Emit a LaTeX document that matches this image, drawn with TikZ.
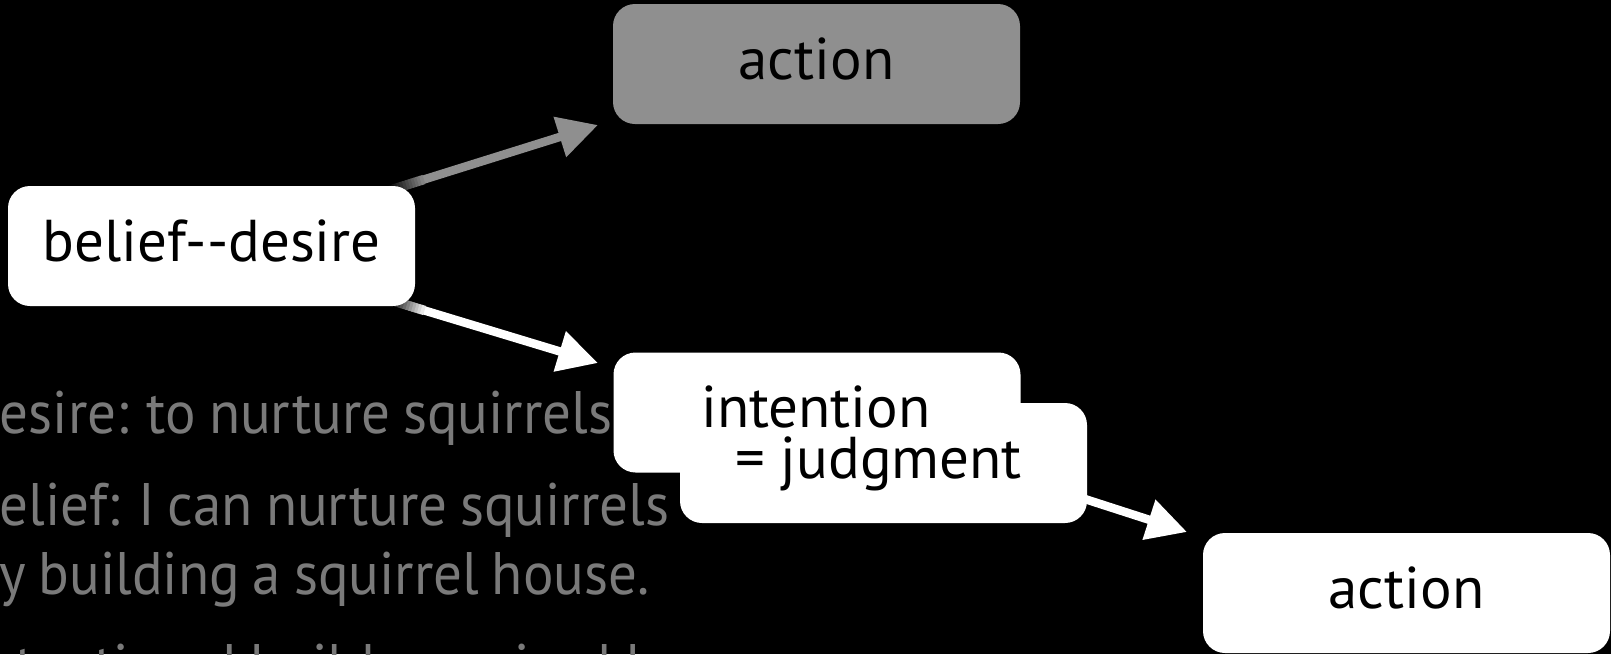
\documentclass[tikz,border=0pt]{standalone}
\usepackage{fontspec}
\setmainfont{PT Sans}
\newfontfamily\myNoteFam[FakeStretch=0.95,WordSpace=0.85]{PT Sans}
\usetikzlibrary{arrows.meta,calc}
\definecolor{boxgray}{HTML}{8F8F8F}
\definecolor{txtgray}{HTML}{7A7A7A}
\newcommand\myBoxFont{\fontsize{59}{51}\selectfont}
\newcommand\myNoteFont{\myNoteFam\fontsize{60}{69}\selectfont}
\begin{document}
\begin{tikzpicture}[x=1pt,y=-1pt,
  box/.style={rectangle, rounded corners=22pt, minimum width=407pt, minimum height=120pt, inner sep=0pt, fill=white, text=black, font=\myBoxFont, text height=30pt, text depth=0pt},
  conn/.style={line width=8.5pt, -{Triangle[length=40pt,width=40pt]}},
  note/.style={anchor=base west, inner sep=0pt, text=txtgray, font=\myNoteFont},
  ]
\fill[black] (0,0) rectangle (1611,654);
\useasboundingbox (0,0) rectangle (1611,654);
\clip (0,0) rectangle (1611,654);
% notes
\node[note] (n1) at (-31,433) {desire: to nurture squirrels};
\node[note] (n2) at (-31,525) {belief: I can nurture squirrels};
\node[note] (n3) at (-31,594) {by building a squirrel house.};
\node[note] (n4) at (-31,686) {intention: I build a squirrel house.};
% positions used by connectors
\coordinate (belc) at (211.5,246);
\coordinate (act1sw) at (613,124);
\coordinate (intbnw) at (613,353);
\coordinate (intbc) at (817,412.5);
\coordinate (act2nw) at (1203,533);
\coordinate (tg1) at ($(act1sw)+(-15,1)$);
\coordinate (tg2) at ($(intbnw)+(-15,10)$);
\coordinate (tg3) at ($(act2nw)+(-16,-1)$);
% arrows
\draw[conn, boxgray] (belc) -- (tg1);
\draw[conn, white] (belc) -- (tg2);
\draw[conn, white] (intbc) -- (tg3);
% fades
\foreach \i in {0,...,11} {
  \pgfmathsetmacro\da{186+\i*3}
  \pgfmathsetmacro\db{186+\i*3+3.6}
  \pgfmathsetmacro\pc{100*\i/12}
  \draw[line width=9.5pt, color=boxgray!\pc!black] ($(belc)!\da pt!(tg1)$) -- ($(belc)!\db pt!(tg1)$);
  \draw[line width=9.5pt, color=white!\pc!black] ($(belc)!\da pt!(tg2)$) -- ($(belc)!\db pt!(tg2)$);
}
% boxes
\node[box, fill=boxgray] (act1) at (816.5,64) {action};
\node[box] (bel) at (belc) {belief-{}-desire};
\node[box] (intb) at (intbc) {};
\node[box] (intf) at (883.5,463) {};
\node[box] (act2) at (1406.5,593) {action};
\node[anchor=base west, inner sep=0pt, align=left, font=\myBoxFont, text=black] (intt) at (701,478) {intention\\\hspace*{34pt}= judgment};
\end{tikzpicture}
\end{document}
